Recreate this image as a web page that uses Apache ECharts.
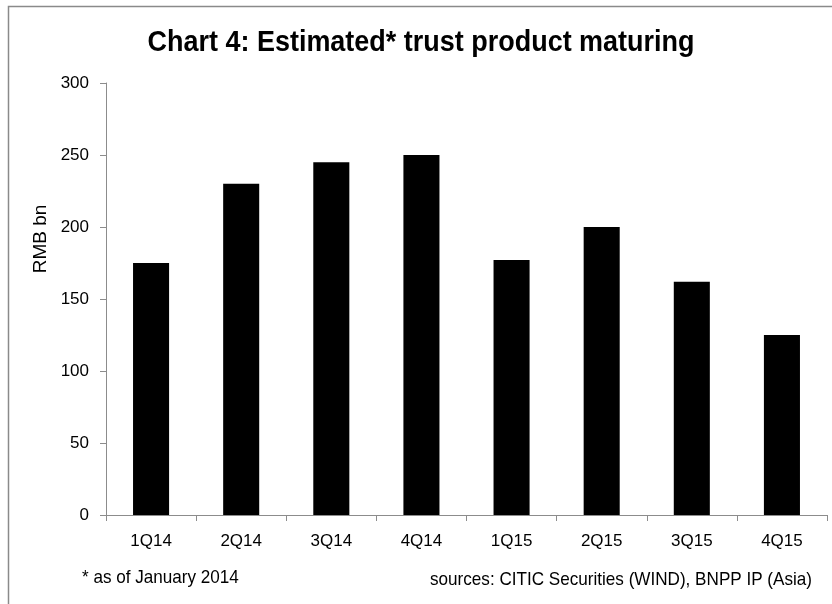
<!DOCTYPE html>
<html>
<head>
<meta charset="utf-8">
<script src="https://cdn.jsdelivr.net/npm/echarts@6/dist/echarts.min.js"></script>
<style>
  html, body { margin: 0; padding: 0; background: #fff; }
  #chart { width: 832px; height: 604px; }
</style>
</head>
<body>
<div id="chart"></div>
<script>
// Quarterly estimate of trust products reaching maturity (RMB bn)
const quarters = ['1Q14', '2Q14', '3Q14', '4Q14', '1Q15', '2Q15', '3Q15', '4Q15'];
const maturing = [175, 230, 245, 250, 177, 200, 162, 125];
const yTicks = { min: 0, max: 300, interval: 50 };

const titleText = 'Chart 4: Estimated* trust product maturing';
const yAxisTitle = 'RMB bn';
const noteText = '* as of January 2014';
const sourceText = 'sources: CITIC Securities (WIND), BNPP IP (Asia)';

const axisGrey = '#8c8c8c';
const labelFont = 'Liberation Sans, Arial, sans-serif';

const chart = echarts.init(document.getElementById('chart'), null, { renderer: 'canvas' });

chart.setOption({
  backgroundColor: '#ffffff',
  animation: false,
  grid: { left: 106, right: 5, top: 83, bottom: 89, containLabel: false },
  xAxis: {
    type: 'category',
    data: quarters,
    boundaryGap: true,
    axisLine: { show: true, lineStyle: { color: axisGrey, width: 1 } },
    axisTick: { show: true, alignWithLabel: false, length: 6, lineStyle: { color: axisGrey } },
    axisLabel: { color: '#000', fontFamily: labelFont, fontSize: 17, margin: 18 },
    splitLine: { show: false }
  },
  yAxis: {
    type: 'value',
    min: yTicks.min,
    max: yTicks.max,
    interval: yTicks.interval,
    axisLine: { show: true, lineStyle: { color: axisGrey, width: 1 } },
    axisTick: { show: true, length: 6, lineStyle: { color: axisGrey } },
    axisLabel: { color: '#000', fontFamily: labelFont, fontSize: 17, margin: 17 },
    splitLine: { show: false }
  },
  series: [{
    type: 'bar',
    data: maturing,
    barWidth: '40%',
    itemStyle: { color: '#000000' }
  }],
  graphic: [
    {
      type: 'rect',
      silent: true,
      shape: { x: 8.5, y: 6.5, width: 1000, height: 1000 },
      style: { fill: 'none', stroke: '#8a8a8a', lineWidth: 1.5 }
    },
    {
      // condensed bold heading
      type: 'text',
      x: 421, y: 43,
      scaleX: 0.93,
      style: {
        text: titleText,
        fill: '#000',
        font: 'bold 29px "Liberation Sans", Arial, sans-serif',
        textAlign: 'center',
        textVerticalAlign: 'middle'
      }
    },
    {
      type: 'text',
      x: 41, y: 239,
      rotation: Math.PI / 2,
      style: {
        text: yAxisTitle,
        fill: '#000',
        font: '19px "Liberation Sans", Arial, sans-serif',
        textAlign: 'center',
        textVerticalAlign: 'middle'
      }
    },
    {
      type: 'text',
      x: 82, y: 578,
      scaleX: 0.9,
      style: {
        text: noteText,
        fill: '#000',
        font: '19px "Liberation Sans", Arial, sans-serif',
        textAlign: 'left',
        textVerticalAlign: 'middle'
      }
    },
    {
      type: 'text',
      x: 812, y: 580,
      scaleX: 0.9,
      style: {
        text: sourceText,
        fill: '#000',
        font: '19px "Liberation Sans", Arial, sans-serif',
        textAlign: 'right',
        textVerticalAlign: 'middle'
      }
    }
  ]
});
</script>
</body>
</html>
